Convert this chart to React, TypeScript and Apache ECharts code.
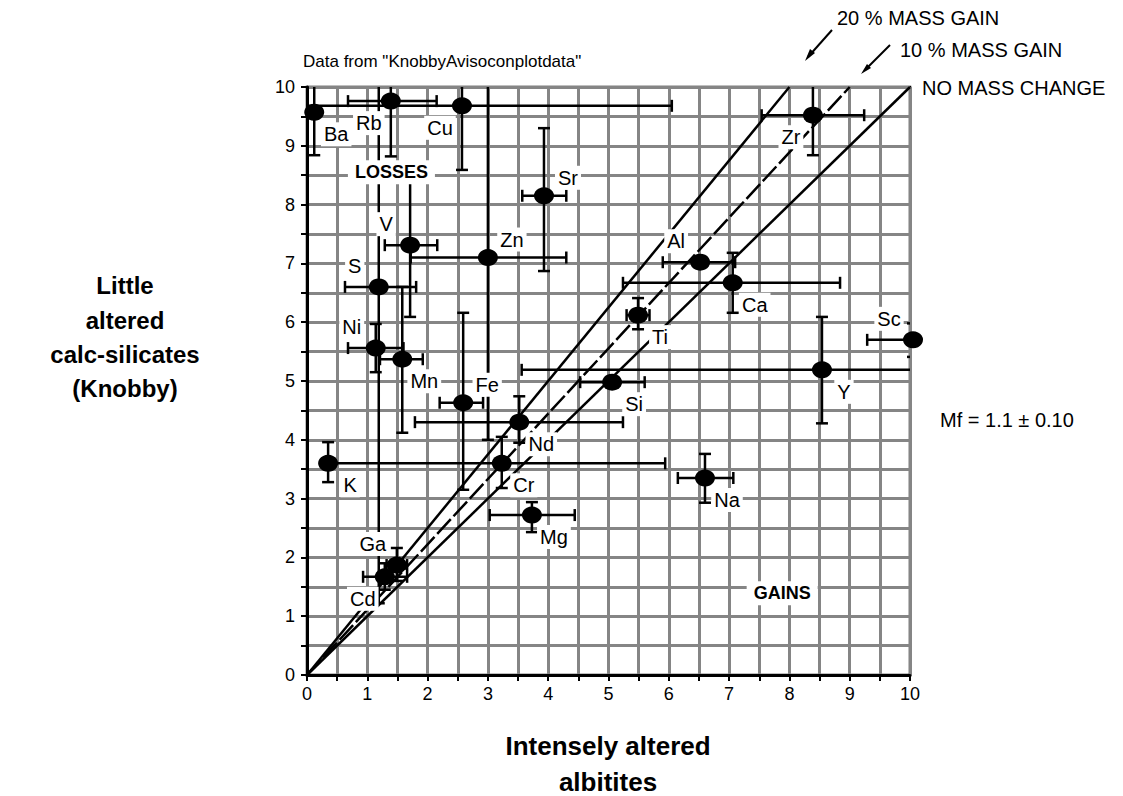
import React, { useEffect, useRef } from "react";
import * as echarts from "echarts";

// ---- data ----
const elements = ["Ba", "Rb", "Cu", "Zr", "Sr", "V", "Zn", "S", "Al", "Ca", "Ti", "Ni", "Sc", "Mn", "Y", "Si", "Fe", "Nd", "K", "Cr", "Na", "Mg", "Ga", "Cd"];
const albitites = [0.12, 1.39, 2.57, 8.39, 3.93, 1.71, 3.0, 1.19, 6.52, 7.06, 5.49, 1.14, 10.05, 1.58, 8.54, 5.06, 2.59, 3.52, 0.35, 3.23, 6.6, 3.73, 1.49, 1.29];
const knobby = [9.57, 9.76, 9.68, 9.52, 8.15, 7.31, 7.1, 6.6, 7.02, 6.67, 6.12, 5.56, 5.7, 5.37, 5.19, 4.98, 4.63, 4.3, 3.6, 3.6, 3.35, 2.72, 1.87, 1.67];
const albititesLow = [null, 0.68, -0.9, 7.54, 3.57, 1.29, 1.72, 0.63, 5.9, 5.24, 5.3, 0.68, 9.29, 1.21, 3.56, 4.53, 2.2, 1.79, null, 0.45, 6.15, 3.03, 1.32, 0.93];
const albititesHigh = [null, 2.15, 6.05, 9.24, 4.3, 2.16, 4.3, 1.81, 7.1, 8.84, 5.68, 1.6, 10.8, 1.92, 13.5, 5.6, 2.92, 5.24, null, 5.94, 7.07, 4.44, 1.66, 1.66];
const knobbyLow = [8.84, 8.82, 8.59, 8.84, 6.87, 6.09, 4.0, 1.22, null, 6.16, 5.88, 5.15, 5.41, 4.12, 4.28, null, 3.15, 3.95, 3.28, 3.18, 2.93, 2.43, 1.6, 1.45];
const knobbyHigh = [10.3, 10.7, 10.77, 10.2, 9.3, 8.53, 10.2, 11.98, null, 7.18, 6.41, 5.97, 5.98, 6.6, 6.09, null, 6.16, 4.74, 3.96, 4.05, 3.76, 2.94, 2.16, 1.9];
const labelSide = ["se", "sw", "sw", "sw", "ne", "nw", "ne", "nw", "nw", "se", "se", "nw", "nw", "se", "se", "se", "ne", "se", "se", "se", "se", "se", "nw", "sw"];

const noChangeLine = [[0, 0], [10, 10]];
const gain10Line = [[0, 0], [9, 10]];
const gain20Line = [[0, 0], [8, 10]];

const regionNames = ["LOSSES", "GAINS"];
const regionX = [1.4, 7.88];
const regionY = [8.55, 1.39];

const FONT = "'Liberation Sans', Arial, sans-serif";

const sideOffset: Record<string, number[]> = {
  se: [22, 22],
  sw: [-22, 22],
  ne: [24, -18],
  nw: [-24, -21],
};

export default function App() {
  const ref = useRef<HTMLDivElement>(null);

  useEffect(() => {
    document.body.style.margin = "0";
    const chart = echarts.init(ref.current!, null, { renderer: "svg" });

    const errData = elements.map((_, i) => [
      albitites[i],
      knobby[i],
      albititesLow[i] ?? albitites[i],
      albititesHigh[i] ?? albitites[i],
      knobbyLow[i] ?? knobby[i],
      knobbyHigh[i] ?? knobby[i],
    ]);

    const scatterData = elements.map((name, i) => ({
      name,
      value: [albitites[i], knobby[i]],
      label: { offset: sideOffset[labelSide[i]] },
    }));

    const cap = 6;
    const renderErr = (params: any, api: any) => {
      const x = api.value(0), y = api.value(1);
      const xl = api.value(2), xh = api.value(3);
      const yl = api.value(4), yh = api.value(5);
      const st = { stroke: "#000", lineWidth: 2.5 };
      const children: any[] = [];
      if (xl !== xh) {
        const a = api.coord([xl, y]);
        const b = api.coord([xh, y]);
        children.push({ type: "line", shape: { x1: a[0], y1: a[1], x2: b[0], y2: b[1] }, style: st });
        children.push({ type: "line", shape: { x1: a[0], y1: a[1] - cap, x2: a[0], y2: a[1] + cap }, style: st });
        children.push({ type: "line", shape: { x1: b[0], y1: b[1] - cap, x2: b[0], y2: b[1] + cap }, style: st });
      }
      if (yl !== yh) {
        const a = api.coord([x, yl]);
        const b = api.coord([x, yh]);
        children.push({ type: "line", shape: { x1: a[0], y1: a[1], x2: b[0], y2: b[1] }, style: st });
        children.push({ type: "line", shape: { x1: a[0] - cap, y1: a[1], x2: a[0] + cap, y2: a[1] }, style: st });
        children.push({ type: "line", shape: { x1: b[0] - cap, y1: b[1], x2: b[0] + cap, y2: b[1] }, style: st });
      }
      return { type: "group", children };
    };

    const axisCommon = {
      type: "value",
      min: 0,
      max: 10,
      interval: 0.5,
      axisLine: { show: true, onZero: false, lineStyle: { color: "#000", width: 3 } },
      axisTick: { show: true, length: 6, lineStyle: { color: "#000", width: 2 } },
      splitLine: { show: true, lineStyle: { color: "#858585", width: 3 } },
      axisLabel: {
        color: "#000",
        fontSize: 18,
        fontFamily: FONT,
        formatter: (v: number) => (Number.isInteger(v) ? String(v) : ""),
      },
    };

    const txt = (x: number, y: number, text: string, size: number, bold = false, align = "left") => ({
      type: "text",
      x,
      y,
      style: {
        text,
        fill: "#000",
        font: `${bold ? "bold " : ""}${size}px ${FONT}`,
        textAlign: align,
        textVerticalAlign: "middle",
      },
    });

    const option: any = {
      animation: false,
      backgroundColor: "#fff",
      grid: {
        left: 307,
        top: 87,
        right: 213,
        bottom: 121,
        show: true,
        borderColor: "#000",
        borderWidth: 2.5,
        backgroundColor: "transparent",
      },
      xAxis: { ...axisCommon, axisLabel: { ...axisCommon.axisLabel, margin: 10 } },
      yAxis: { ...axisCommon, axisLabel: { ...axisCommon.axisLabel, margin: 12 } },
      series: [
        {
          type: "line",
          data: noChangeLine,
          symbol: "none",
          z: 2,
          lineStyle: { color: "#000", width: 2.5 },
        },
        {
          type: "line",
          data: gain10Line,
          symbol: "none",
          z: 2,
          lineStyle: { color: "#000", width: 2.5, type: [20, 4] },
        },
        {
          type: "line",
          data: gain20Line,
          symbol: "none",
          z: 2,
          lineStyle: { color: "#000", width: 2.5 },
        },
        {
          type: "custom",
          renderItem: renderErr,
          data: errData,
          clip: true,
          z: 3,
          encode: { x: 0, y: 1 },
        },
        {
          type: "scatter",
          data: scatterData,
          symbol: "circle",
          symbolSize: [20, 17],
          z: 4,
          clip: false,
          itemStyle: { color: "#000", opacity: 1 },
          label: {
            show: true,
            position: "inside",
            formatter: "{b}",
            color: "#000",
            opacity: 1,
            fontSize: 20,
            fontFamily: FONT,
            backgroundColor: "#fff",
            padding: [2, 3],
          },
        },
        {
          type: "scatter",
          data: regionNames.map((n, i) => ({ name: n, value: [regionX[i], regionY[i]] })),
          symbolSize: 0,
          z: 5,
          itemStyle: { opacity: 1 },
          label: {
            show: true,
            position: "inside",
            formatter: "{b}",
            color: "#000",
            opacity: 1,
            fontSize: 18,
            fontWeight: "bold",
            fontFamily: FONT,
            backgroundColor: "#fff",
            padding: [3, 7],
          },
        },
      ],
      graphic: [
        txt(303, 61, 'Data from "KnobbyAvisoconplotdata"', 17),
        txt(837, 18, "20 % MASS GAIN", 20),
        txt(900, 50, "10 % MASS GAIN", 20),
        txt(922, 88, "NO MASS CHANGE", 20),
        txt(940, 420, "Mf = 1.1 \u00b1 0.10", 20),
        txt(125, 285, "Little", 24, true, "center"),
        txt(125, 320, "altered", 24, true, "center"),
        txt(125, 354, "calc-silicates", 24, true, "center"),
        txt(125, 388, "(Knobby)", 24, true, "center"),
        txt(608, 746, "Intensely altered", 26, true, "center"),
        txt(608, 782, "albitites", 26, true, "center"),
        { type: "line", shape: { x1: 832, y1: 30, x2: 808, y2: 57 }, style: { stroke: "#000", lineWidth: 2 } },
        { type: "polygon", shape: { points: [[805, 61], [815, 53], [810, 49]] }, style: { fill: "#000" } },
        { type: "line", shape: { x1: 890, y1: 45, x2: 865, y2: 70 }, style: { stroke: "#000", lineWidth: 2 } },
        { type: "polygon", shape: { points: [[861, 74], [871, 68], [867, 64]] }, style: { fill: "#000" } },
      ],
    };

    chart.setOption(option);
    return () => chart.dispose();
  }, []);

  return <div ref={ref} style={{ width: 1123, height: 796 }} />;
}
